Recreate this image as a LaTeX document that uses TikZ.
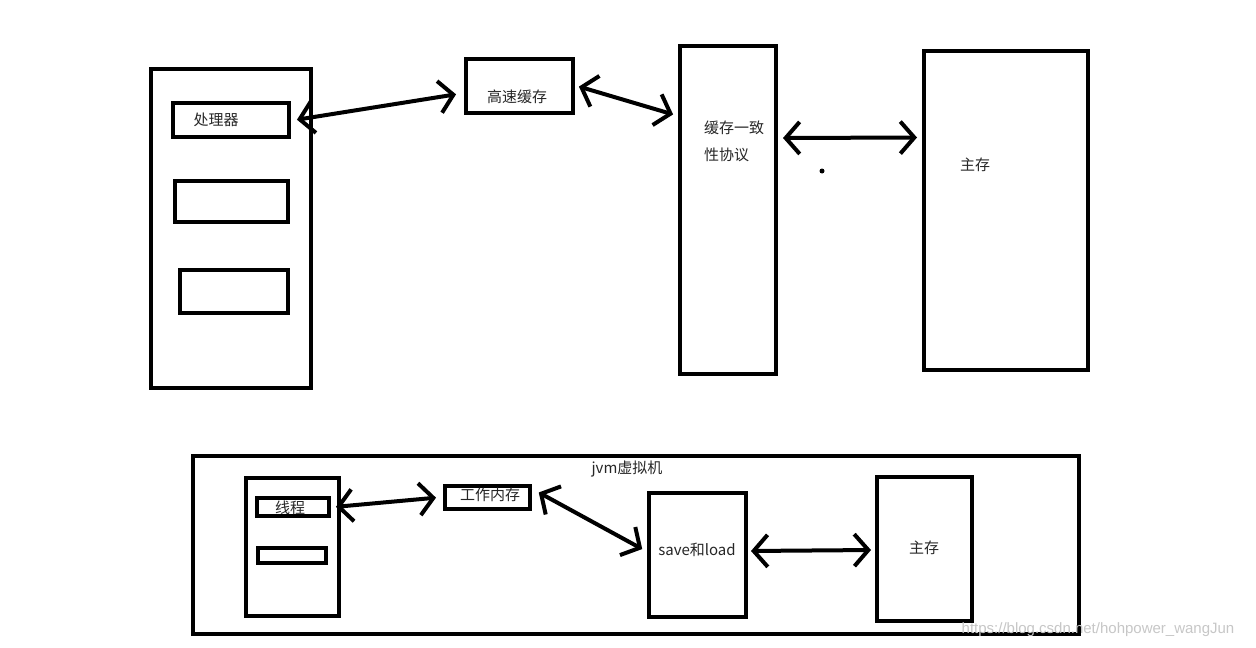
\documentclass[tikz,border=0pt]{standalone}
\usepackage{fontspec}
\newfontfamily\cjk{Noto Sans CJK SC}
\newfontfamily\wmfont{Liberation Sans}
\usetikzlibrary{arrows.meta,calc}
\begin{document}
\begin{tikzpicture}[x=1pt,y=-1pt,
  box/.style={draw=black,line width=4pt,rectangle,inner sep=0pt,fill=none},
  lbl/.style={font=\cjk\fontsize{15}{18}\selectfont,inner sep=0pt,text=black!85},
  link/.style={line width=4pt,{Straight Barb[length=14pt,width=32pt,line width=4pt]}-{Straight Barb[length=14pt,width=32pt,line width=4pt]},shorten <=2pt,shorten >=2pt}]
\useasboundingbox[fill=white] (0,0) rectangle (1256,648);
% top
\node[box,minimum width=160,minimum height=319] (P) at (231,228) {};
\node[box,minimum width=116,minimum height=34] (cpu) at (231,120) {};
\node[box,minimum width=113,minimum height=41] (b2) at (231.5,201.5) {};
\node[box,minimum width=108,minimum height=43] (b3) at (234,291.5) {};
\node[box,minimum width=107,minimum height=54] (cache) at (519.5,86) {};
\node[box,minimum width=96,minimum height=328] (proto) at (728,210) {};
\node[box,minimum width=164,minimum height=319] (mem) at (1006,210.5) {};
\node[lbl] (tcpu) at (216,120) {处理器};
\node[lbl] (tcache) at (517,97) {高速缓存};
\node[lbl,anchor=west] (tp1) at (704,128) {缓存一致};
\node[lbl,anchor=west] (tp2) at (704,155) {性协议};
\node[lbl] (tmem) at (975,165) {主存};
\draw[link] ([xshift=4pt]cpu.east) -- ([xshift=-6pt,yshift=-8pt]cache.west);
\draw[link] ([xshift=2pt]cache.east) -- ([xshift=-3pt,yshift=95pt]proto.west);
\draw[link] ([xshift=3pt,yshift=72pt]proto.east) -- ([xshift=-3pt,yshift=73pt]mem.west);
\fill (822,171) circle (2.5);
% bottom
\node[box,minimum width=886,minimum height=178] (jvm) at (636,545) {};
\node[box,minimum width=93,minimum height=138] (th) at (292.5,547) {};
\node[box,minimum width=72,minimum height=18] (line) at (293,507) {};
\node[box,minimum width=68,minimum height=15] (sb) at (292,555.5) {};
\node[box,minimum width=85,minimum height=23] (wm) at (487.5,497.5) {};
\node[box,minimum width=97,minimum height=124] (sl) at (697.5,555) {};
\node[box,minimum width=95,minimum height=144] (mem2) at (924.5,549) {};
\node[lbl] (tjvm) at (627,469) {jvm虚拟机};
\node[lbl] (tline) at (290,508) {线程};
\node[lbl] (twm) at (490,495) {工作内存};
\node[lbl] (tsl) at (697,550) {save和load};
\node[lbl] (tmem2) at (924,548) {主存};
\draw[link] ([xshift=3pt]line.east) -- ([xshift=-5pt]wm.west);
\draw[link] ([xshift=5pt,yshift=6pt]wm.east) -- ([xshift=-3pt,yshift=5pt]sl.west);
\draw[link] ([xshift=1pt,yshift=4pt]sl.east) -- ([xshift=-2pt,yshift=-1pt]mem2.west);
\node[font=\wmfont\fontsize{15}{18}\selectfont,text=black!22,inner sep=0pt] (wmk) at (1098,630) {https://blog.csdn.net/hohpower\_wangJun};
\end{tikzpicture}
\end{document}
